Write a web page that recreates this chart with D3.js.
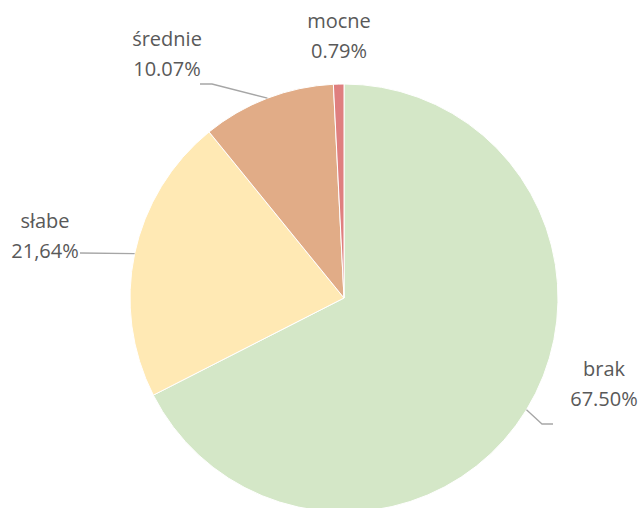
<!DOCTYPE html>
<html>
<head>
<meta charset="utf-8">
<script src="https://cdn.jsdelivr.net/npm/d3@7"></script>
<style>
  html, body { margin: 0; padding: 0; background: #fff; }
  svg { display: block; }
  text { font-family: "Open Sans", "Noto Sans", sans-serif; font-size: 20px; fill: #595959; }
</style>
</head>
<body>
<svg id="chart" width="641" height="508"></svg>
<script>
// Share of each category (percent), clockwise from 12 o'clock
const categories = ["brak", "słabe", "średnie", "mocne"];
const values = [67.50, 21.64, 10.07, 0.79];
const valueLabels = ["67.50%", "21,64%", "10.07%", "0.79%"];
const colors = ["#d4e7c7", "#ffe9b4", "#e1ac87", "#df7f7f"];

const width = 641, height = 508;
const cx = 344, cy = 298, radius = 214;

const svg = d3.select("#chart");
const g = svg.append("g").attr("transform", `translate(${cx},${cy})`);

const pie = d3.pie().sort(null).value(d => d.value);
const data = categories.map((c, i) => ({ name: c, value: values[i], label: valueLabels[i], color: colors[i] }));
const arcs = pie(data);

const arc = d3.arc().innerRadius(0).outerRadius(radius);
const edge = d3.arc().innerRadius(radius).outerRadius(radius);

g.selectAll("path.slice")
  .data(arcs)
  .join("path")
  .attr("class", "slice")
  .attr("d", arc)
  .attr("fill", d => d.data.color)
  .attr("stroke", "#fff")
  .attr("stroke-width", 1);

// Label layout (relative to pie centre): text centre x, first baseline y,
// and leader-line end point (null = no leader line)
const layout = {
  "brak":    { x: 260, y: 78,   end: [209, 126], elbow: [198, 126] },
  "słabe":   { x: -299, y: -70, end: [-264, -45], elbow: null },
  "średnie": { x: -177, y: -252, end: [-144, -214], elbow: [-132, -214] },
  "mocne":   { x: -5,  y: -270, end: null, elbow: null }
};
const lineGap = 29.5;

// Leader lines from the slice edge at its mid-angle
arcs.forEach(d => {
  const L = layout[d.data.name];
  if (!L.end) return;
  const p0 = edge.centroid(d);
  const pts = [p0];
  if (L.elbow) pts.push(L.elbow);
  pts.push(L.end);
  g.append("path")
    .attr("d", d3.line()(pts))
    .attr("fill", "none")
    .attr("stroke", "#a6a6a6")
    .attr("stroke-width", 1.3);
});

// Two-line labels: category name and percentage
arcs.forEach(d => {
  const L = layout[d.data.name];
  const t = g.append("text").attr("text-anchor", "middle");
  t.append("tspan").attr("x", L.x).attr("y", L.y).text(d.data.name);
  t.append("tspan").attr("x", L.x).attr("y", L.y + lineGap).text(d.data.label);
});
</script>
</body>
</html>
